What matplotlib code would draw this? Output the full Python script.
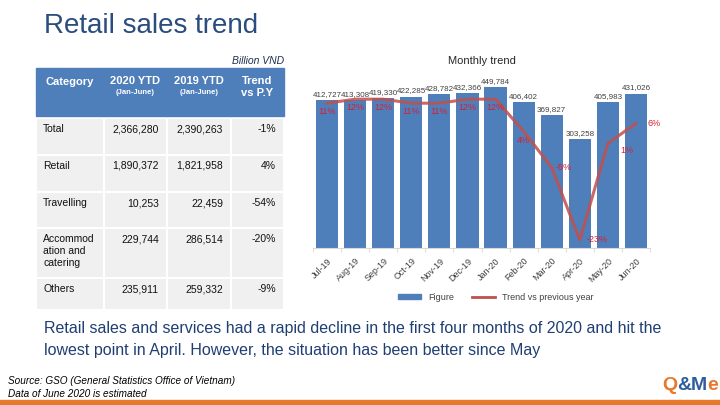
import numpy as np
import matplotlib.pyplot as plt
from matplotlib.patches import Rectangle
from matplotlib.lines import Line2D

plt.rcParams['font.family'] = ['Liberation Sans', 'DejaVu Sans']

# data
months = ['Jul-19', 'Aug-19', 'Sep-19', 'Oct-19', 'Nov-19', 'Dec-19', 'Jan-20',
          'Feb-20', 'Mar-20', 'Apr-20', 'May-20', 'Jun-20']
figure = [412727, 413308, 419330, 422285, 428782, 432366, 449784,
          406402, 369827, 303258, 405983, 431026]
trend = [11, 12, 12, 11, 11, 12, 12, 4, -5, -23, 1, 6]

categories = ['Total', 'Retail', 'Travelling', 'Accommod\nation and\ncatering', 'Others']
ytd_2020 = ['2,366,280', '1,890,372', '10,253', '229,744', '235,911']
ytd_2019 = ['2,390,263', '1,821,958', '22,459', '286,514', '259,332']
trend_py = ['-1%', '4%', '-54%', '-20%', '-9%']

blue = '#4F7FBB'
red = '#C0504D'
navy = '#1F3F73'
orange = '#E8782A'

fig = plt.figure(figsize=(7.2, 4.05), dpi=100)

# background axes in pixel coords
bg = fig.add_axes([0, 0, 1, 1])
bg.set_xlim(0, 720)
bg.set_ylim(405, 0)
bg.axis('off')

bg.text(44, 26, 'Retail sales trend', fontsize=20, color='#2B4C7E', va='center')
bg.text(284, 61, 'Billion VND', fontsize=7.5, style='italic', color='#1F2F50', ha='right', va='center')

# table
col_x = [36, 104, 167, 231, 284]
row_y = [118, 155, 192, 228, 278, 310]
bg.add_patch(Rectangle((36, 68), 248, 48, color=blue))
for j in range(4):
    for i in range(5):
        bg.add_patch(Rectangle((col_x[j] + 0.7, row_y[i] + 0.7),
                               col_x[j + 1] - col_x[j] - 1.4, row_y[i + 1] - row_y[i] - 1.4,
                               color='#F0F0F0', lw=0))
bg.text(70, 82, 'Category', color='white', fontsize=8, weight='bold', ha='center', va='center')
for j, lab in [(1, '2020 YTD'), (2, '2019 YTD')]:
    cx = (col_x[j] + col_x[j + 1]) / 2
    bg.text(cx, 81, lab, color='white', fontsize=8, weight='bold', ha='center', va='center')
    bg.text(cx, 93, '(Jan-June)', color='white', fontsize=5.5, weight='bold', ha='center', va='center')
bg.text(257, 87, 'Trend\nvs P.Y', color='white', fontsize=8, weight='bold', ha='center', va='center',
        linespacing=1.2)
for i in range(5):
    ty = row_y[i] + 6
    bg.text(43, ty, categories[i], fontsize=7.5, va='top', color='#111111', linespacing=1.25)
    bg.text(159, ty, ytd_2020[i], fontsize=7.5, va='top', ha='right', color='#111111')
    bg.text(223, ty, ytd_2019[i], fontsize=7.5, va='top', ha='right', color='#111111')
    bg.text(276, ty, trend_py[i], fontsize=7.5, va='top', ha='right', color='#111111')

# bottom texts
bg.text(44, 328, 'Retail sales and services had a rapid decline in the first four months of 2020 and hit the',
        fontsize=11.5, color=navy, va='center')
bg.text(44, 351, 'lowest point in April. However, the situation has been better since May',
        fontsize=11.5, color=navy, va='center')
bg.text(8, 381, 'Source: GSO (General Statistics Office of Vietnam)', fontsize=7.2, style='italic', va='center')
bg.text(8, 394, 'Data of June 2020 is estimated', fontsize=7.2, style='italic', va='center')
bg.add_patch(Rectangle((0, 400), 720, 5, color=orange))
for cx, ch, col in [(662, 'Q', orange), (677, '&', '#2C5F9E'), (691, 'M', '#2C5F9E'), (707, 'e', orange)]:
    bg.text(cx, 385, ch, fontsize=14, weight='bold', color=col, ha='left', va='center')

# chart
ax = fig.add_axes([313 / 720, (405 - 248) / 405, (650 - 313) / 720, (248 - 67) / 405])
x = np.arange(len(months))
ax.bar(x, figure, width=0.79, color=blue, zorder=1)
ax.set_ylim(0, 505000)
ax.set_xlim(-0.5, len(months) - 0.5)
for s in ['top', 'right', 'left']:
    ax.spines[s].set_visible(False)
ax.spines['bottom'].set_color('#D9D9D9')
ax.set_yticks([])
ax.set_xticks(x)
ax.set_xticklabels(months, rotation=45, fontsize=6.5, color='#404040', ha='right', rotation_mode='anchor')
ax.set_xticks(np.arange(-0.5, len(months)), minor=True)
ax.tick_params(axis='x', which='major', length=0, pad=6)
ax.tick_params(axis='x', which='minor', length=3, color='#D9D9D9')
for xi, v in zip(x, figure):
    ax.text(xi, v + 6000, f'{v:,}', ha='center', va='bottom', fontsize=5.8, color='#404040')
ax.set_title('Monthly trend', fontsize=8, color='#262626', pad=2)

ax2 = ax.twinx()
ax2.plot(x, trend, color=red, lw=2.2, alpha=0.85, zorder=3)
ax2.set_ylim(-25, 20)
ax2.axis('off')
offsets = [(0, -3, 'center', 'top')] * 8 + [(3, 0, 'left', 'center'), (5, 0, 'left', 'center'),
                                             (9, -2, 'left', 'top'), (8, 0, 'left', 'center')]
for xi, t, (dx, dy, ha, va) in zip(x, trend, offsets):
    ax2.annotate(f'{t}%', (xi, t), xytext=(dx, dy), textcoords='offset points',
                 ha=ha, va=va, fontsize=6.5, color='#D62030')

handles = [Rectangle((0, 0), 1, 1, color=blue), Line2D([0], [0], color=red, lw=2)]
fig.legend(handles, ['Figure', 'Trend vs previous year'], loc='center', bbox_to_anchor=(496 / 720, 1 - 297 / 405),
           ncol=2, frameon=False, fontsize=6.5, handlelength=2.5, handleheight=0.5, columnspacing=2,
           labelcolor='#404040')

fig.savefig('out.png', dpi=100)
